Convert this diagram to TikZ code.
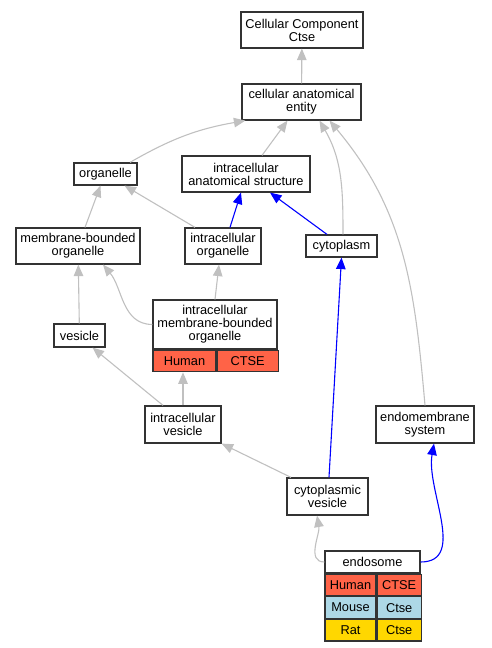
\documentclass[tikz,border=0pt]{standalone}
\usepackage{fontspec}
\setmainfont{Liberation Sans}
\usetikzlibrary{arrows.meta}
\definecolor{human}{HTML}{FF6347}
\definecolor{mouse}{HTML}{ADD8E6}
\definecolor{rat}{HTML}{FFD700}
\definecolor{edgegray}{HTML}{C0C0C0}

\begin{document}
\begin{tikzpicture}[x=1pt, y=1pt, >={Triangle[length=11.5pt, width=9.5pt]},
  font=\fontsize{12.8}{13}\selectfont,
  term/.style={draw=black!80, line width=1.2pt, fill=white, align=center, inner sep=0pt},
  cell/.style={term, anchor=north west, minimum height=21.5pt},
  isa/.style={->, draw=edgegray, line width=1.1pt},
  partof/.style={->, draw=blue, line width=1.1pt}]

  \useasboundingbox (0,0) rectangle (491,648);

  % terms
  \node[term, minimum width=122pt, minimum height=36pt] (ccc) at (302,618) {Cellular Component\\Ctse};
  \node[term, minimum width=119pt, minimum height=36pt] (cae) at (301.5,546) {cellular anatomical\\entity};
  \node[term, minimum width=63pt, minimum height=22pt] (org) at (105.5,474) {organelle};
  \node[term, minimum width=128pt, minimum height=36pt] (ias) at (246,474) {intracellular\\anatomical structure};
  \node[term, minimum width=124pt, minimum height=36pt] (mbo) at (78,402) {membrane-bounded\\organelle};
  \node[term, minimum width=76pt, minimum height=36pt] (io) at (223,402) {intracellular\\organelle};
  \node[term, minimum width=71pt, minimum height=22pt] (cyto) at (341.5,402) {cytoplasm};
  \node[term, minimum width=124pt, minimum height=49pt] (imbo) at (215,323.5) {intracellular\\membrane-bounded\\organelle};
  \node[cell, fill=human, minimum width=63pt] (imboH) at (imbo.south west) {Human};
  \node[cell, fill=human, minimum width=61pt] (imboG) at (imboH.north east) {CTSE};
  \node[term, minimum width=51pt, minimum height=23pt] (ves) at (79.5,312.5) {vesicle};
  \node[term, minimum width=76pt, minimum height=37pt] (iv) at (183,223.5) {intracellular\\vesicle};
  \node[term, minimum width=98pt, minimum height=37pt] (ems) at (425,223.5) {endomembrane\\system};
  \node[term, minimum width=81pt, minimum height=37pt] (cv) at (327.5,151.5) {cytoplasmic\\vesicle};
  \node[term, minimum width=95pt, minimum height=22pt] (endo) at (372.5,86) {endosome};
  \node[cell, fill=human, minimum width=51pt] (endoH) at (endo.south west) {Human};
  \node[cell, fill=human, minimum width=44pt] (endoHG) at (endoH.north east) {CTSE};
  \node[cell, fill=mouse, minimum width=51pt] (endoM) at (endoH.south west) {Mouse};
  \node[cell, fill=mouse, minimum width=44pt] (endoMG) at (endoM.north east) {Ctse};
  \node[cell, fill=rat, minimum width=51pt] (endoR) at (endoM.south west) {Rat};
  \node[cell, fill=rat, minimum width=44pt] (endoRG) at (endoR.north east) {Ctse};

  % is_a
  \draw[isa] (cae) -- (ccc);
  \draw[isa] ([xshift=24.5pt]org.north) to[bend left=10] ([xshift=4pt]cae.south west);
  \draw[isa] ([xshift=16pt]ias.north) -- ([xshift=-14pt]cae.south);
  \draw[isa] ([xshift=1.5pt]cyto.north) to[out=90, in=-60] ([xshift=18pt]cae.south);
  \draw[isa] (ems.north) to[out=95, in=-50] ([xshift=28pt]cae.south);
  \draw[isa] ([xshift=7pt]mbo.north) -- ([xshift=-5pt]org.south);
  \draw[isa] ([xshift=-28pt]io.north) -- ([xshift=19pt]org.south);
  \draw[isa] (ves) -- (mbo);
  \draw[isa] (imbo.west) to[out=180, in=-50] ([xshift=25pt]mbo.south);
  \draw[isa] (imbo.north) -- ([xshift=-4pt]io.south);
  \draw[isa] ([xshift=-20pt]iv.north) -- ([xshift=13pt]ves.south);
  \draw[isa] (iv.north) -- (iv.north |- imboH.south);
  \draw[isa] ([xshift=-36.5pt]cv.north) -- (iv.south east);
  \draw[isa] (endo.west) to[out=180, in=-80] ([xshift=-10.5pt]cv.south);

  % part_of
  \draw[partof] ([xshift=7pt]io.north) -- ([xshift=-5pt]ias.south);
  \draw[partof] ([xshift=-14.5pt]cyto.north) -- ([xshift=24pt]ias.south);
  \draw[partof] ([xshift=1.5pt]cv.north) -- (cyto.south);
  \draw[partof] (endo.east) to[out=0, in=-100] ([xshift=9pt]ems.south);

\end{tikzpicture}
\end{document}
